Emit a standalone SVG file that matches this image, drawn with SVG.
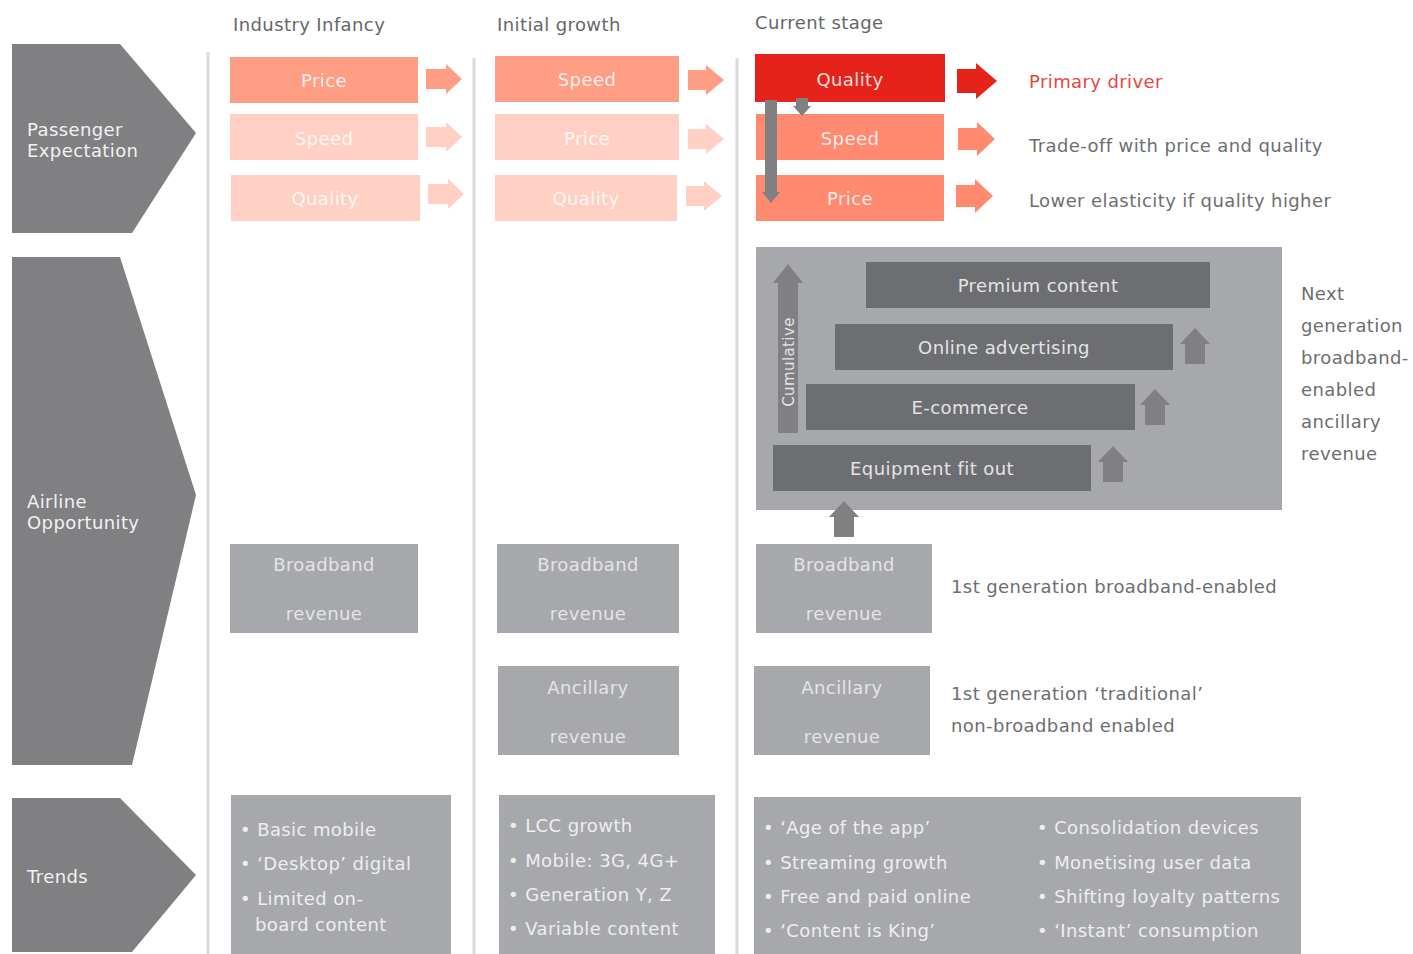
<svg xmlns="http://www.w3.org/2000/svg" width="1413" height="954" viewBox="0 0 1413 954">
<style>
text{font-family:"DejaVu Sans","Liberation Sans",Arial,sans-serif;font-size:18px;letter-spacing:0.4px}
.hdr{fill:#666769}
.lbl{fill:#f2f2f2}
.bt{fill:#ffffff;fill-opacity:0.85;text-anchor:middle}
.gt{fill:#e4e4e6;text-anchor:middle}
.side{fill:#6d6e71}
.tr{fill:#eeeeef}
.chev{fill:#808083}
.div{stroke:#d9d9da;stroke-width:3}
.s1{fill:#ff9e85}
.s2{fill:#ffd0c3}
.s3{fill:#ff8a70}
.red{fill:#e5231b}
.lg{fill:#a7a8ab}
.dg{fill:#6d6e71}
.ga{fill:#808083}
</style>

<g id="dividers">
<line class="div" x1="208" y1="52" x2="208" y2="954"/>
<line class="div" x1="474" y1="58" x2="474" y2="954"/>
<line class="div" x1="737" y1="58" x2="737" y2="954"/>
</g>

<g id="headers">
<text class="hdr" x="233" y="31">Industry Infancy</text>
<text class="hdr" x="497" y="31">Initial growth</text>
<text class="hdr" x="755" y="29">Current stage</text>
</g>

<g id="chevron-passenger">
<polygon class="chev" points="12,44 120,44 196,133 132,233 12,233"/>
<text class="lbl" x="27" y="136">Passenger</text>
<text class="lbl" x="27" y="157">Expectation</text>
</g>
<g id="chevron-airline">
<polygon class="chev" points="12,257 120,257 196,495 132,765 12,765"/>
<text class="lbl" x="27" y="508">Airline</text>
<text class="lbl" x="27" y="529">Opportunity</text>
</g>
<g id="chevron-trends">
<polygon class="chev" points="12,798 120,798 196,875 132,952 12,952"/>
<text class="lbl" x="27" y="883">Trends</text>
</g>

<g id="col1-expectation">
<rect class="s1" x="230" y="57" width="188" height="46"/>
<text class="bt" x="324" y="87">Price</text>
<rect class="s2" x="230" y="114" width="188" height="46"/>
<text class="bt" x="324" y="145">Speed</text>
<rect class="s2" x="231" y="175" width="189" height="46"/>
<text class="bt" x="325" y="205">Quality</text>
</g>

<g id="col2-expectation">
<rect class="s1" x="495" y="56" width="184" height="46"/>
<text class="bt" x="587" y="86">Speed</text>
<rect class="s2" x="495" y="114" width="184" height="46"/>
<text class="bt" x="587" y="145">Price</text>
<rect class="s2" x="495" y="175" width="182" height="46"/>
<text class="bt" x="586" y="205">Quality</text>
</g>

<g id="col3-expectation">
<rect class="red" x="755" y="54" width="190" height="48"/>
<text class="bt" x="850" y="86">Quality</text>
<rect class="s3" x="756" y="114" width="188" height="46"/>
<text class="bt" x="850" y="145">Speed</text>
<rect class="s3" x="756" y="175" width="188" height="46"/>
<text class="bt" x="850" y="205">Price</text>
</g>

<g id="expectation-notes">
<text x="1029" y="88" fill="#e8463e">Primary driver</text>
<text class="side" x="1029" y="152">Trade-off with price and quality</text>
<text class="side" x="1029" y="207">Lower elasticity if quality higher</text>
</g>

<g id="next-gen">
<rect class="lg" x="756" y="247" width="526" height="263"/>
<rect class="dg" x="866" y="262" width="344" height="46"/>
<text class="gt" x="1038" y="292">Premium content</text>
<rect class="dg" x="835" y="324" width="338" height="46"/>
<text class="gt" x="1004" y="354">Online advertising</text>
<rect class="dg" x="806" y="384" width="329" height="46"/>
<text class="gt" x="970" y="414">E-commerce</text>
<rect class="dg" x="773" y="445" width="318" height="46"/>
<text class="gt" x="932" y="475">Equipment fit out</text>
</g>

<g id="next-gen-note" class="side">
<text x="1301" y="300">Next</text>
<text x="1301" y="332">generation</text>
<text x="1301" y="364">broadband-</text>
<text x="1301" y="396">enabled</text>
<text x="1301" y="428">ancillary</text>
<text x="1301" y="460">revenue</text>
</g>

<g id="broadband-col1">
<rect class="lg" x="230" y="544" width="188" height="89"/>
<text class="gt" x="324" y="571">Broadband</text>
<text class="gt" x="324" y="620">revenue</text>
</g>
<g id="broadband-col2">
<rect class="lg" x="497" y="544" width="182" height="89"/>
<text class="gt" x="588" y="571">Broadband</text>
<text class="gt" x="588" y="620">revenue</text>
</g>
<g id="broadband-col3">
<rect class="lg" x="756" y="544" width="176" height="89"/>
<text class="gt" x="844" y="571">Broadband</text>
<text class="gt" x="844" y="620">revenue</text>
</g>
<g id="ancillary-col2">
<rect class="lg" x="498" y="666" width="181" height="89"/>
<text class="gt" x="588" y="694">Ancillary</text>
<text class="gt" x="588" y="743">revenue</text>
</g>
<g id="ancillary-col3">
<rect class="lg" x="754" y="666" width="176" height="89"/>
<text class="gt" x="842" y="694">Ancillary</text>
<text class="gt" x="842" y="743">revenue</text>
</g>

<g id="revenue-notes" class="side">
<text x="951" y="593">1st generation broadband-enabled</text>
<text x="951" y="700">1st generation ‘traditional’</text>
<text x="951" y="732">non-broadband enabled</text>
</g>

<g id="trends-col1">
<rect class="lg" x="231" y="795" width="220" height="159"/>
<text class="tr" x="240" y="836">• Basic mobile</text>
<text class="tr" x="240" y="870">• ‘Desktop’ digital</text>
<text class="tr" x="240" y="905">• Limited on-</text>
<text class="tr" x="255" y="931">board content</text>
</g>
<g id="trends-col2">
<rect class="lg" x="499" y="795" width="216" height="159"/>
<text class="tr" x="508" y="832">• LCC growth</text>
<text class="tr" x="508" y="867">• Mobile: 3G, 4G+</text>
<text class="tr" x="508" y="901">• Generation Y, Z</text>
<text class="tr" x="508" y="935">• Variable content</text>
</g>
<g id="trends-col3">
<rect class="lg" x="754" y="797" width="547" height="157"/>
<text class="tr" x="763" y="834">• ‘Age of the app’</text>
<text class="tr" x="763" y="869">• Streaming growth</text>
<text class="tr" x="763" y="903">• Free and paid online</text>
<text class="tr" x="763" y="937">• ‘Content is King’</text>
<text class="tr" x="1037" y="834">• Consolidation devices</text>
<text class="tr" x="1037" y="869">• Monetising user data</text>
<text class="tr" x="1037" y="903">• Shifting loyalty patterns</text>
<text class="tr" x="1037" y="937">• ‘Instant’ consumption</text>
</g>

<g id="connectors">
<path class="s1" d="M426,69 H446 V64 L462,79 L446,94 V89 H426 Z"/>
<path class="s2" d="M426,127 H446 V122 L462,137 L446,152 V147 H426 Z"/>
<path class="s2" d="M428,184 H448 V179 L464,194 L448,209 V204 H428 Z"/>
<path class="s1" d="M688,70 H706 V65 L724,80 L706,95 V90 H688 Z"/>
<path class="s2" d="M688,129 H706 V124 L724,139 L706,154 V149 H688 Z"/>
<path class="s2" d="M686,186 H704 V181 L722,196 L704,211 V206 H686 Z"/>
<path class="red" d="M957,69 H976 V63 L997,81 L976,99 V93 H957 Z"/>
<path class="s3" d="M958,128 H977 V122 L995,139 L977,156 V150 H958 Z"/>
<path class="s3" d="M956,185 H975 V179 L993,196 L975,213 V207 H956 Z"/>
<path class="ga" d="M765,100 H777 V192 H780 L771,203 L762,192 H765 Z"/>
<path class="ga" d="M796,98 H808 V106 H811 L802,116 L793,106 H796 Z"/>
<path class="ga" d="M778,433 V283 H773 L788,264 L803,283 H798 V433 Z"/>
<path class="ga" d="M1185,364 V344 H1180 L1195,328 L1210,344 H1205 V364 Z"/>
<path class="ga" d="M1145,425 V405 H1140 L1155,389 L1170,405 H1165 V425 Z"/>
<path class="ga" d="M1103,482 V462 H1098 L1113,446 L1128,462 H1123 V482 Z"/>
<path class="ga" d="M834,537 V517 H829 L844,501 L859,517 H854 V537 Z"/>
</g>

<g id="cumulative-label">
<text class="gt" transform="translate(794,362) rotate(-90)" style="font-size:15px">Cumulative</text>
</g>
</svg>
